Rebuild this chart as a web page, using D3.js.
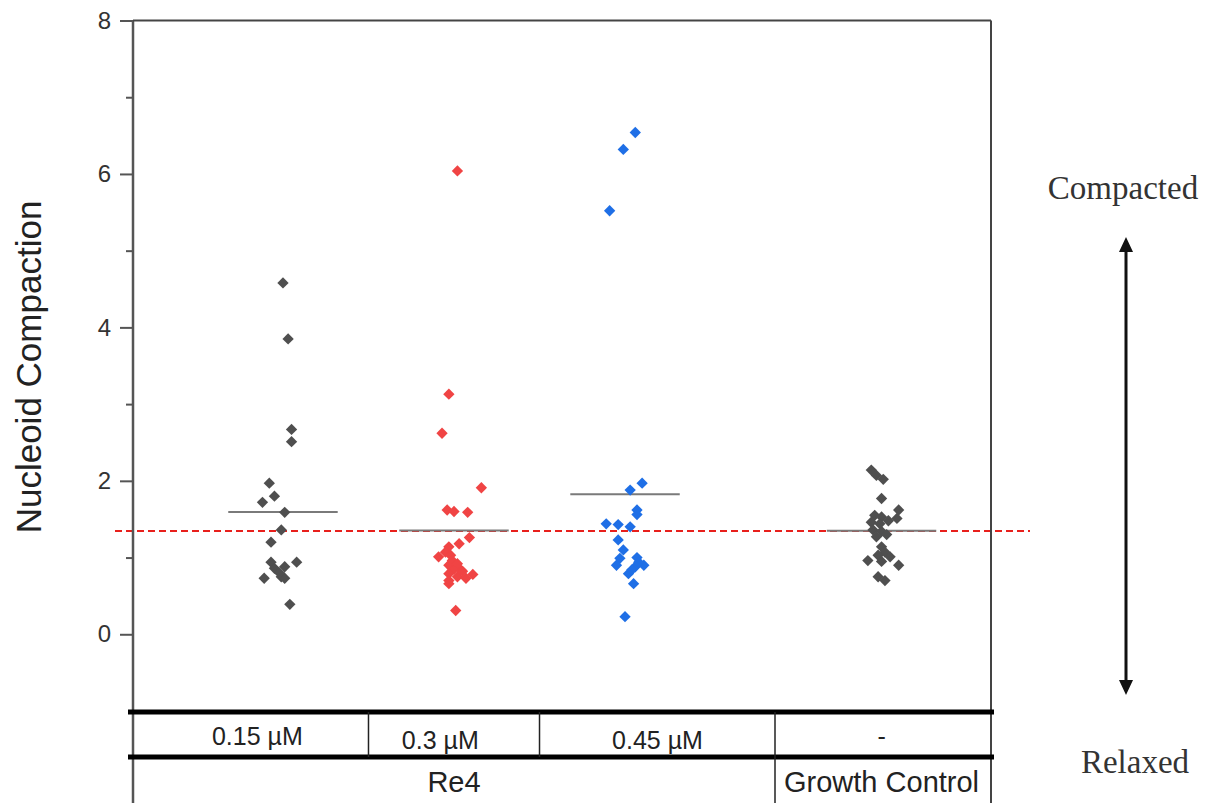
<!DOCTYPE html>
<html>
<head>
<meta charset="utf-8">
<script src="https://cdn.jsdelivr.net/npm/d3@7"></script>
<style>
  html, body { margin: 0; padding: 0; background: #fff; }
  svg { display: block; }
</style>
</head>
<body>
<svg id="chart" width="1210" height="803"></svg>
<script>
// Nucleoid compaction per cell, by treatment
const groupPositions = [1, 2, 3, 4.5];
const groupColors = ["#4f4f4f", "#f04444", "#1f6fe6", "#4f4f4f"];

const re4_015 = [4.58, 3.85, 2.67, 2.51, 1.97, 1.80, 1.72, 1.59, 1.36, 1.20, 0.94, 0.94, 0.86, 0.88, 0.73, 0.75, 0.73, 0.80, 0.39];
const re4_015Jitter = [0.00, 0.03, 0.05, 0.05, -0.08, -0.05, -0.12, 0.01, -0.01, -0.07, -0.07, 0.08, -0.05, 0.01, -0.11, -0.01, 0.01, -0.02, 0.04];

const re4_03 = [6.04, 3.13, 2.62, 1.91, 1.62, 1.60, 1.59, 1.26, 1.18, 1.14, 1.07, 1.01, 1.03, 0.90, 0.85, 0.79, 0.75, 0.73, 0.78, 0.66, 0.31, 0.96, 0.84, 0.70, 0.82, 0.92];
const re4_03Jitter = [0.02, -0.03, -0.07, 0.16, -0.04, 0.00, 0.08, 0.09, 0.03, -0.03, -0.05, -0.09, -0.02, -0.03, 0.00, -0.03, 0.02, 0.07, 0.11, -0.03, 0.01, -0.01, 0.04, -0.03, 0.05, 0.02];

const re4_045 = [6.54, 6.32, 5.52, 1.97, 1.88, 1.62, 1.56, 1.44, 1.43, 1.40, 1.23, 1.10, 0.99, 0.90, 1.00, 0.90, 0.88, 0.79, 0.66, 0.23, 0.94, 0.84];
const re4_045Jitter = [0.06, -0.01, -0.09, 0.10, 0.03, 0.07, 0.07, -0.11, -0.04, 0.03, -0.04, -0.01, -0.03, -0.05, 0.07, 0.11, 0.06, 0.02, 0.05, 0.00, 0.08, 0.04];

const growthControl = [2.14, 2.07, 2.02, 1.77, 1.62, 1.55, 1.53, 1.51, 1.46, 1.44, 1.36, 1.34, 1.27, 1.14, 1.07, 1.03, 0.96, 1.01, 0.95, 0.90, 0.75, 0.70, 1.48, 1.30];
const growthControlJitter = [-0.06, -0.03, 0.01, 0.00, 0.10, -0.04, 0.00, 0.09, -0.06, -0.01, -0.05, 0.00, -0.03, 0.00, 0.02, -0.02, -0.08, 0.05, 0.00, 0.10, -0.02, 0.02, 0.04, 0.03];

const referenceLevel = 1.345;

const yTicks = [0, 2, 4, 6, 8];
const yMinorTicks = [1, 3, 5, 7];
const doseLabels = ["0.15 µM", "0.3 µM", "0.45 µM", "-"];
const treatmentLabels = ["Re4", "Growth Control"];

const groups = [
  { values: re4_015, jitter: re4_015Jitter },
  { values: re4_03, jitter: re4_03Jitter },
  { values: re4_045, jitter: re4_045Jitter },
  { values: growthControl, jitter: growthControlJitter }
];

// ---- layout ----
const svg = d3.select("#chart");
const plotLeft = 133, plotRight = 991, plotTop = 20.5, plotBottom = 711;
const row1Top = 712, row2Top = 757, tableBottom = 803;

const x = d3.scaleLinear().domain([0.123, 5.14]).range([plotLeft, plotRight]);
const y = d3.scaleLinear().domain([-1, 8]).range([plotBottom, plotTop]);

svg.append("rect").attr("width", 1210).attr("height", 803).attr("fill", "#fff");

// reference level (dashed)
svg.append("line")
  .attr("x1", 115).attr("x2", 1030)
  .attr("y1", y(referenceLevel)).attr("y2", y(referenceLevel))
  .attr("stroke", "#e8201c").attr("stroke-width", 2)
  .attr("stroke-dasharray", "7,4");

// group means
const meanHalf = 0.32;
groups.forEach((g, i) => {
  const m = d3.mean(g.values);
  svg.append("line")
    .attr("x1", x(groupPositions[i] - meanHalf)).attr("x2", x(groupPositions[i] + meanHalf))
    .attr("y1", y(m)).attr("y2", y(m))
    .attr("stroke", "#7a7a7a").attr("stroke-width", 2);
});

// points
const diamond = d3.symbol().type(d3.symbolSquare).size(64);
groups.forEach((g, i) => {
  svg.append("g").selectAll("path")
    .data(g.values.map((v, k) => ({ v, j: g.jitter[k] })))
    .join("path")
    .attr("d", diamond)
    .attr("transform", d => `translate(${x(groupPositions[i] + d.j)},${y(d.v)}) rotate(45)`)
    .attr("fill", groupColors[i]);
});

// y axis
const yAxis = d3.axisLeft(y).tickValues(yTicks).tickSize(13).tickSizeOuter(0).tickPadding(9);
const gy = svg.append("g").attr("transform", `translate(${plotLeft},0)`).call(yAxis);
gy.select(".domain").remove();
gy.selectAll(".tick line").attr("stroke", "#555").attr("stroke-width", 2);
gy.selectAll(".tick text")
  .attr("font-family", "'Liberation Sans', Arial, sans-serif")
  .attr("font-size", 24).attr("fill", "#333");

const yMinor = d3.axisLeft(y).tickValues(yMinorTicks).tickSize(7).tickFormat("");
const gym = svg.append("g").attr("transform", `translate(${plotLeft},0)`).call(yMinor);
gym.select(".domain").remove();
gym.selectAll(".tick line").attr("stroke", "#555").attr("stroke-width", 2);

// frame: left axis line runs down through the table, top and right borders
svg.append("line").attr("x1", plotLeft).attr("x2", plotLeft).attr("y1", plotTop).attr("y2", tableBottom)
  .attr("stroke", "#555").attr("stroke-width", 2.5);
svg.append("line").attr("x1", plotLeft).attr("x2", plotRight).attr("y1", plotTop).attr("y2", plotTop)
  .attr("stroke", "#444").attr("stroke-width", 2);
svg.append("line").attr("x1", plotRight).attr("x2", plotRight).attr("y1", plotTop).attr("y2", tableBottom)
  .attr("stroke", "#444").attr("stroke-width", 2);

// y title
svg.append("text")
  .attr("transform", `translate(41,367) rotate(-90)`)
  .attr("text-anchor", "middle")
  .attr("font-family", "'Liberation Sans', Arial, sans-serif")
  .attr("font-size", 35).attr("fill", "#222")
  .text("Nucleoid Compaction");

// ---- treatment table under the plot ----
const table = svg.append("g");
[row1Top, row2Top].forEach(yy => {
  table.append("line").attr("x1", 128).attr("x2", 994).attr("y1", yy).attr("y2", yy)
    .attr("stroke", "#000").attr("stroke-width", 5);
});
// dose row separators
const doseBounds = [1.5, 2.5, 3.877];
doseBounds.forEach(b => {
  table.append("line").attr("x1", x(b)).attr("x2", x(b)).attr("y1", row1Top).attr("y2", row2Top)
    .attr("stroke", "#222").attr("stroke-width", 1.5);
});
// treatment row separator
table.append("line").attr("x1", x(3.877)).attr("x2", x(3.877)).attr("y1", row2Top).attr("y2", tableBottom)
  .attr("stroke", "#222").attr("stroke-width", 1.5);

const doseCenters = [0.85, 1.92, 3.19, 4.5];
const doseBaselines = [745, 749, 749, 745];
table.selectAll("text.dose").data(doseLabels).join("text")
  .attr("class", "dose")
  .attr("x", (d, i) => x(doseCenters[i]))
  .attr("y", (d, i) => doseBaselines[i])
  .attr("text-anchor", "middle")
  .attr("font-family", "'Liberation Sans', Arial, sans-serif")
  .attr("font-size", 25).attr("fill", "#222")
  .text(d => d);

const treatmentCenters = [2.0, 4.5];
table.selectAll("text.treat").data(treatmentLabels).join("text")
  .attr("class", "treat")
  .attr("x", (d, i) => x(treatmentCenters[i]))
  .attr("y", 792)
  .attr("text-anchor", "middle")
  .attr("font-family", "'Liberation Sans', Arial, sans-serif")
  .attr("font-size", 29).attr("fill", "#222")
  .text(d => d);

// ---- compaction direction annotation ----
const ax = 1126;
const ann = svg.append("g");
ann.append("line").attr("x1", ax).attr("x2", ax).attr("y1", 248).attr("y2", 684)
  .attr("stroke", "#111").attr("stroke-width", 3);
ann.append("path").attr("d", `M${ax},237 L${ax - 7},252 L${ax + 7},252 Z`).attr("fill", "#111");
ann.append("path").attr("d", `M${ax},695 L${ax - 7},680 L${ax + 7},680 Z`).attr("fill", "#111");
ann.append("text").attr("x", 1123).attr("y", 199).attr("text-anchor", "middle")
  .attr("font-family", "'Liberation Serif', 'Times New Roman', serif")
  .attr("font-size", 33).attr("fill", "#333").text("Compacted");
ann.append("text").attr("x", 1135).attr("y", 773).attr("text-anchor", "middle")
  .attr("font-family", "'Liberation Serif', 'Times New Roman', serif")
  .attr("font-size", 33).attr("fill", "#333").text("Relaxed");
</script>
</body>
</html>
